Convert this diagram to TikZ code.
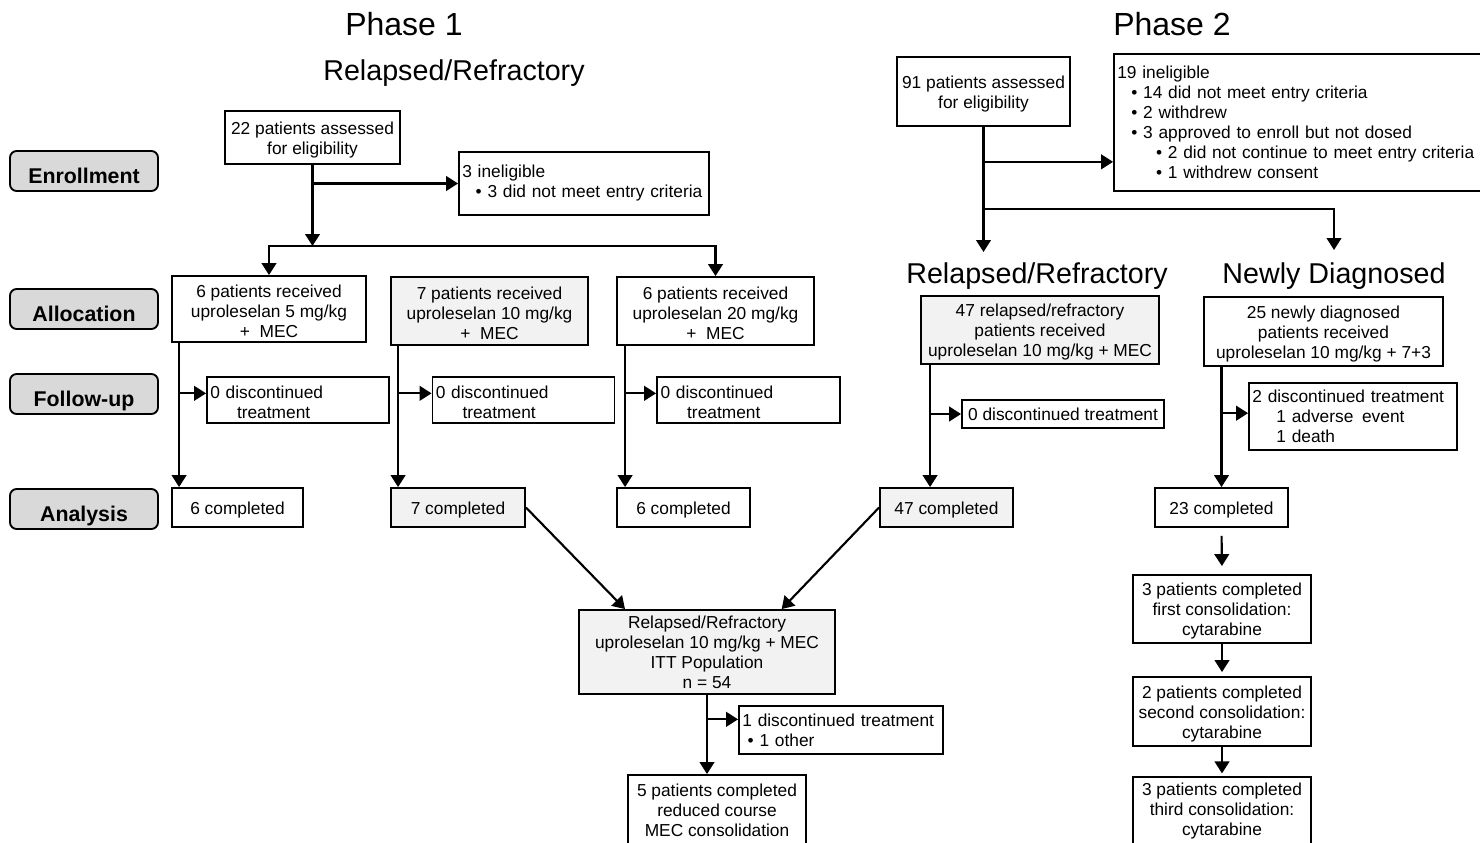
\documentclass[tikz,border=0pt]{standalone}
\usepackage{fontspec}
\setmainfont{Liberation Sans}
\usetikzlibrary{arrows.meta}
\definecolor{boxgray}{HTML}{F2F2F2}
\definecolor{labgray}{HTML}{D9D9D9}
\tikzset{
 box/.style={draw=black, line width=1.4pt, inner sep=0pt, align=center, font=\fontsize{13}{15}\selectfont},
 gbox/.style={box, fill=boxgray},
 lbox/.style={box, align=left, inner xsep=2.5pt},
 dn/.style={execute at begin node={\rule{0pt}{12.5pt}}},
 lab/.style={draw=black, line width=1.4pt, fill=labgray, rounded corners=5pt, inner sep=0pt, text height=19pt, text depth=0pt, font=\fontsize{16}{18}\selectfont\bfseries},
 conn/.style={line width=1.6pt},
 arr/.style={conn, -{Triangle[length=9pt,width=11pt]}},
 head/.style={font=\fontsize{21.5}{24}\selectfont, inner sep=0pt},
 phase/.style={font=\fontsize{24}{28}\selectfont, inner sep=0pt},
}
\newcommand\mybox[7]{\node[#1, minimum width={(#4-#2)*0.75pt}, minimum height={(#5-#3)*0.75pt}] (#6) at ({(#2+#4)/2},{(#3+#5)/2}) {#7};}
\newcommand\upstrut{\rule{0pt}{12.5pt}}
\begin{document}
\begin{tikzpicture}[x=0.75pt,y=-0.75pt]
\useasboundingbox (0,0) rectangle (1480,842);
\clip (0,0) rectangle (1480,842);
% headings
\node[phase] (ph1) at (404,24) {Phase 1};
\node[head] (rr1) at (454,73) {Relapsed/Refractory};
\node[phase] (ph2) at (1172,24) {Phase 2};
\node[head] (rr2h) at (1037,276.5) {Relapsed/Refractory};
\node[head] (ndh) at (1334,276.5) {Newly Diagnosed};
% row labels
\mybox{lab}{10}{151}{158}{191}{Lenr}{Enrollment}
\mybox{lab}{10}{289}{158}{329}{Lall}{Allocation}
\mybox{lab}{10}{374}{158}{414}{Lfol}{Follow-up}
\mybox{lab}{10}{489}{158}{529}{Lana}{Analysis}
% phase 1
\mybox{box}{225}{111}{400}{164}{A1}{\upstrut 22 patients assessed\\for eligibility}
\mybox{lbox,text width=182.5pt}{459}{152}{709}{215}{Inel1}{3 ineligible\\\hspace*{10pt}\textbullet\ 3 did not meet entry criteria}
\mybox{box}{172}{276}{366}{342}{B1}{\upstrut 6 patients received\\uproleselan 5 mg/kg\\+\ \ MEC}
\mybox{gbox}{391}{277}{588}{345}{B2}{\upstrut 7 patients received\\uproleselan 10 mg/kg\\+\ \ MEC}
\mybox{box}{617}{277}{814}{345}{B3}{\upstrut 6 patients received\\uproleselan 20 mg/kg\\+\ \ MEC}
\mybox{lbox,dn,text width=131.5pt}{207}{377}{389}{423}{F1}{0 discontinued\\\hspace*{20pt}treatment}
\mybox{lbox,dn,text width=131.5pt}{433}{377}{614}{423}{F2}{0 discontinued\\\hspace*{20pt}treatment}
\mybox{lbox,dn,text width=132pt}{657}{377}{840}{423}{F3}{0 discontinued\\\hspace*{20pt}treatment}
\mybox{box,dn}{172}{488}{303}{527}{C1}{6 completed}
\mybox{gbox,dn}{391}{488}{525}{527}{C2}{7 completed}
\mybox{box,dn}{617}{488}{750}{527}{C3}{6 completed}
% phase 2
\mybox{box}{897}{57}{1070}{126}{A2}{\upstrut 91 patients assessed\\for eligibility}
\mybox{lbox,text width=274pt}{1114}{54}{1486}{191}{Inel2}{19 ineligible\\
\hspace*{10.5pt}\textbullet\ 14 did not meet entry criteria\\
\hspace*{10.5pt}\textbullet\ 2 withdrew\\
\hspace*{10.5pt}\textbullet\ 3 approved to enroll but not dosed\\
\hspace*{29pt}\textbullet\ 2 did not continue to meet entry criteria\\
\hspace*{29pt}\textbullet\ 1 withdrew consent}
\mybox{gbox}{921}{296}{1159}{364}{R2}{\upstrut 47 relapsed/refractory\\patients received\\uproleselan 10 mg/kg + MEC}
\mybox{box}{1204}{297}{1443}{366}{N2}{\upstrut 25 newly diagnosed\\patients received\\uproleselan 10 mg/kg + 7+3}
\mybox{box}{962}{400}{1164}{428}{D2}{0 discontinued treatment}
\mybox{lbox,text width=151pt}{1249}{383}{1457}{450}{D3}{2 discontinued treatment\\\hspace*{18pt}1 adverse\hspace{0.5em}event\\\hspace*{18pt}1 death}
\mybox{gbox,dn}{880}{488}{1013}{527}{C4}{47 completed}
\mybox{box,dn}{1155}{488}{1288}{527}{C5}{23 completed}
\mybox{box}{1133}{575}{1311}{643}{K1}{\upstrut 3 patients completed\\first consolidation:\\cytarabine}
\mybox{box}{1133}{677}{1311}{746}{K2}{\upstrut 2 patients completed\\second consolidation:\\cytarabine}
\mybox{box}{1133}{777}{1311}{846}{K3}{3 patients completed\\third consolidation:\\cytarabine}
% ITT
\mybox{gbox}{579}{610}{835}{694}{ITT}{Relapsed/Refractory\\uproleselan 10 mg/kg + MEC\\ITT Population\\n = 54}
\mybox{lbox,text width=148pt}{739}{706}{943}{754}{Dis}{1 discontinued treatment\\\hspace*{4pt}\textbullet\ 1 other}
\mybox{box}{628}{775}{806}{846}{E}{5 patients completed\\reduced course\\MEC consolidation}
% connectors phase 1
\coordinate (bar1) at (312.5,246);
\draw[arr] (A1.south) -- (bar1);
\draw[arr] (A1.south |- Inel1.west) -- (Inel1.west);
\draw[arr] (bar1) -| (B1.north);
\draw[arr] (bar1) -| (B3.north);
\coordinate (v1) at ([xshift=6pt]B1.south west);
\coordinate (v2) at ([xshift=6pt]B2.south west);
\coordinate (v3) at ([xshift=6.75pt]B3.south west);
\coordinate (f1) at ([yshift=5pt]F1.west);
\coordinate (f2) at ([yshift=5pt]F2.west);
\coordinate (f3) at ([yshift=5pt]F3.west);
\draw[arr] (v1) -- (v1 |- C1.north);
\draw[arr] (v2) -- (v2 |- C2.north);
\draw[arr] (v3) -- (v3 |- C3.north);
\draw[arr] (v1 |- f1) -- (f1);
\draw[arr] (v2 |- f2) -- (f2);
\draw[arr] (v3 |- f3) -- (f3);
% connectors phase 2
\coordinate (rr2) at (983.5,252);
\coordinate (bar2) at (983.5,209);
\coordinate (nd2) at (1334,250);
\coordinate (i2) at ([yshift=-29.5pt]Inel2.west);
\draw[arr] (A2.south) -- (rr2);
\draw[arr] (A2.south |- i2) -- (i2);
\draw[arr] (bar2) -| (nd2);
\coordinate (v4) at ([xshift=7.5pt]R2.south west);
\draw[arr] (v4) -- (v4 |- C4.north);
\draw[arr] (v4 |- D2.west) -- (D2.west);
\coordinate (v5) at (C5.north |- N2.south);
\coordinate (d3) at ([yshift=2.5pt]D3.west);
\draw[arr] (v5) -- (C5.north);
\draw[arr] (v5 |- d3) -- (d3);
\draw[arr, shorten <=6pt, shorten >=6pt] (C5.south) -- (K1.north);
\draw[arr, shorten >=3pt] (K1.south) -- (K2.north);
\draw[arr, shorten >=2pt] (K2.south) -- (K3.north);
% ITT connectors
\draw[arr] (C2.east) -- ([xshift=-61.5pt]ITT.north);
\draw[arr] (C4.west) -- ([xshift=56pt]ITT.north);
\coordinate (d1) at ([yshift=8pt]Dis.west);
\draw[arr] (ITT.south |- d1) -- (d1);
\draw[arr] (ITT.south) -- (ITT.south |- E.north);
\end{tikzpicture}
\end{document}
